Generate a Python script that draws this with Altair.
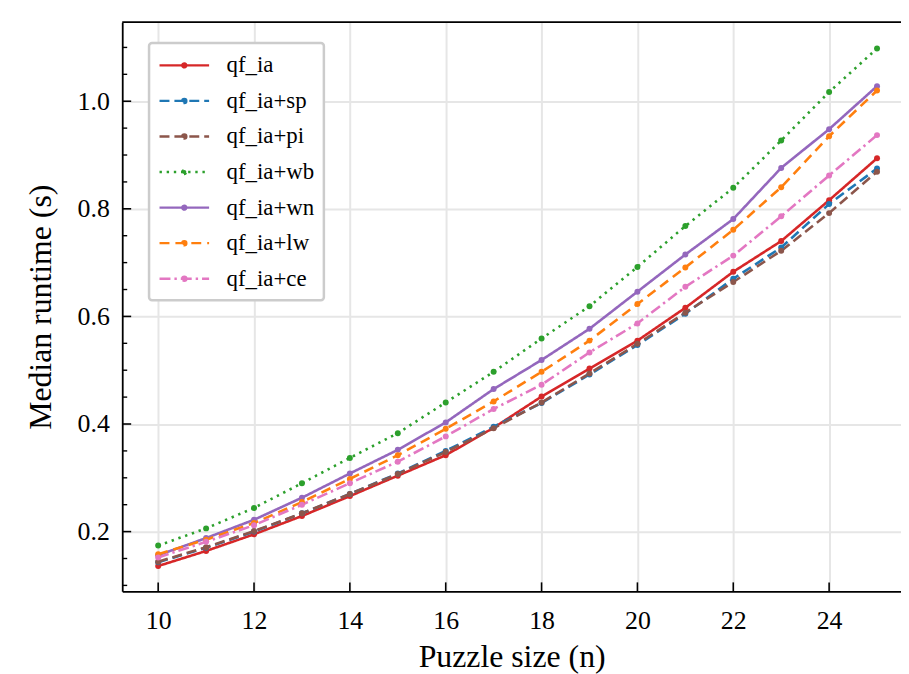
import altair as alt
import pandas as pd

# ---------------- data ----------------
puzzle_sizes = list(range(10, 26))
series_names = ["qf_ia", "qf_ia+sp", "qf_ia+pi", "qf_ia+wb", "qf_ia+wn", "qf_ia+lw", "qf_ia+ce"]

qf_ia    = [0.136, 0.164, 0.195, 0.229, 0.266, 0.304, 0.342, 0.393, 0.451, 0.503, 0.555, 0.616, 0.683, 0.740, 0.816, 0.894]
qf_ia_sp = [0.143, 0.170, 0.200, 0.234, 0.270, 0.308, 0.350, 0.395, 0.439, 0.492, 0.547, 0.605, 0.670, 0.728, 0.809, 0.875]
qf_ia_pi = [0.144, 0.171, 0.201, 0.234, 0.270, 0.307, 0.348, 0.392, 0.440, 0.494, 0.549, 0.607, 0.664, 0.722, 0.792, 0.869]
qf_ia_wb = [0.174, 0.206, 0.244, 0.290, 0.337, 0.383, 0.440, 0.497, 0.559, 0.619, 0.692, 0.768, 0.839, 0.927, 1.017, 1.098]
qf_ia_wn = [0.156, 0.188, 0.222, 0.263, 0.308, 0.352, 0.403, 0.465, 0.519, 0.577, 0.646, 0.715, 0.781, 0.876, 0.948, 1.028]
qf_ia_lw = [0.158, 0.185, 0.216, 0.255, 0.298, 0.342, 0.391, 0.442, 0.497, 0.555, 0.623, 0.691, 0.761, 0.840, 0.935, 1.020]
qf_ia_ce = [0.152, 0.181, 0.212, 0.250, 0.290, 0.330, 0.377, 0.428, 0.473, 0.533, 0.587, 0.655, 0.713, 0.786, 0.862, 0.937]

x_tick_values = [10, 12, 14, 16, 18, 20, 22, 24]
y_tick_values = [0.2, 0.4, 0.6, 0.8, 1.0]
y_minor_values = [0.10, 0.15, 0.25, 0.30, 0.35, 0.45, 0.50, 0.55, 0.65, 0.70, 0.75, 0.85, 0.90, 0.95, 1.05, 1.10]

# ---------------- styling ----------------
colors = ["#d62728", "#1f77b4", "#8c564b", "#2ca02c", "#9467bd", "#ff7f0e", "#e377c2"]
dashes = [[1, 0], [10, 5], [10, 5], [2.4, 4.8], [1, 0], [10, 6], [11, 4, 2.4, 4]]
FONT = "Liberation Serif"
W, H = 784, 573

all_series = [qf_ia, qf_ia_sp, qf_ia_pi, qf_ia_wb, qf_ia_wn, qf_ia_lw, qf_ia_ce]
rows = []
for name, vals in zip(series_names, all_series):
    for n, v in zip(puzzle_sizes, vals):
        rows.append({"n": n, "v": v, "series": name})
df = pd.DataFrame(rows)

xscale = alt.Scale(domain=[9.25, 25.5], nice=False, zero=False)
yscale = alt.Scale(domain=[0.089, 1.147], nice=False, zero=False)

x_axis = alt.Axis(values=x_tick_values, format="d", title="Puzzle size (n)", ticks=False,
                  labelPadding=16, titlePadding=9, labelFlush=False)
y_axis = alt.Axis(values=y_tick_values, format=".1f", title="Median runtime (s)", ticks=False,
                  labelPadding=13, titlePadding=20)

legend = alt.Legend(title=None, orient="none", legendX=27, legendY=21)
color_enc = alt.Color("series:N", scale=alt.Scale(domain=series_names, range=colors), legend=legend)
dash_enc = alt.StrokeDash("series:N", scale=alt.Scale(domain=series_names, range=dashes), legend=legend)

X = alt.X("n:Q", scale=xscale, axis=x_axis)
Y = alt.Y("v:Q", scale=yscale, axis=y_axis)

lines = alt.Chart(df).mark_line(strokeWidth=2.6).encode(x=X, y=Y, color=color_enc, strokeDash=dash_enc)
points = alt.Chart(df).mark_circle(size=36, opacity=1).encode(
    x=X, y=Y, color=alt.Color("series:N", scale=alt.Scale(domain=series_names, range=colors)))

xt = alt.Chart(pd.DataFrame({"n": x_tick_values})).mark_rule(color="black", strokeWidth=1.6).encode(
    x=X, y=alt.value(H), y2=alt.value(H - 9))
yt = alt.Chart(pd.DataFrame({"v": y_tick_values})).mark_rule(color="black", strokeWidth=1.6).encode(
    y=Y, x=alt.value(0), x2=alt.value(9))
ym = alt.Chart(pd.DataFrame({"v": y_minor_values})).mark_rule(color="black", strokeWidth=1.4).encode(
    y=Y, x=alt.value(0), x2=alt.value(5))
top = alt.Chart(pd.DataFrame({"a": [0]})).mark_rule(color="black", strokeWidth=1.8).encode(
    x=alt.value(0), x2=alt.value(W), y=alt.value(0))

chart = alt.layer(lines, points, xt, yt, ym, top).properties(
    width=W, height=H,
    autosize=alt.AutoSizeParams(type="none"),
    padding={"left": 115, "top": 12, "right": 0, "bottom": 81},
).configure_view(stroke=None).configure_axis(
    labelFont=FONT, titleFont=FONT, labelFontSize=26, titleFontSize=32,
    titleFontWeight="normal", labelColor="black", titleColor="black",
    domainColor="black", domainWidth=1.8, gridColor="#e6e6e6", gridWidth=2,
).configure_legend(
    labelFont=FONT, labelFontSize=23, labelColor="black",
    symbolType="M-2.08,0H2.08M-0.17,0A0.17,0.17,0,1,1,0.17,0A0.17,0.17,0,1,1,-0.17,0",
    symbolSize=576, symbolStrokeWidth=2.4, symbolOffset=13, labelOffset=29,
    padding=9, rowPadding=9.8, fillColor="white", strokeColor="#cccccc",
    strokeWidth=2.5, cornerRadius=3,
)

chart.save("out.html", embed_options={"renderer": "svg", "actions": False})
